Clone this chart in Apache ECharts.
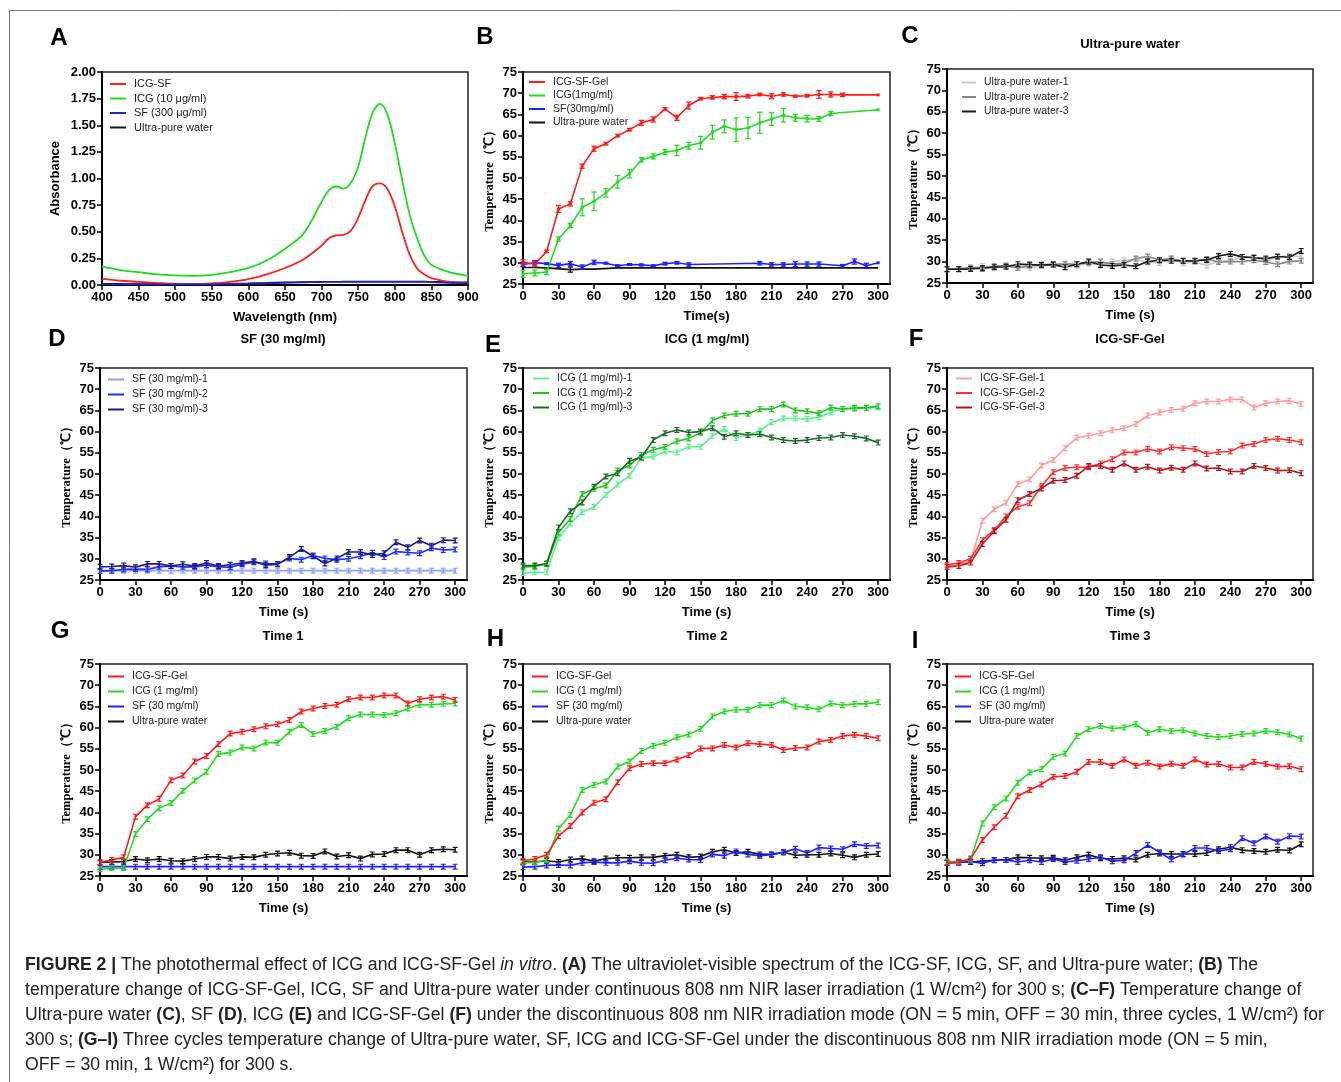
<!DOCTYPE html>
<html><head><meta charset="utf-8">
<script src="https://cdn.jsdelivr.net/npm/echarts@6/dist/echarts.min.js"></script>
<style>html,body{margin:0;padding:0;background:#fff}#c{width:1341px;height:1082px}</style>
</head><body><div id="c"></div>
<script>
// ---------- Panel A: UV-vis spectrum ----------
const wavelengthNm = [400,425,450,475,500,525,550,575,600,625,650,675,700,710,720,730,740,750,760,770,780,790,800,810,820,830,840,850,875,900];
const absIcgSf = [0.060,0.040,0.030,0.020,0.012,0.010,0.015,0.030,0.055,0.100,0.160,0.240,0.370,0.440,0.465,0.470,0.510,0.630,0.800,0.930,0.955,0.900,0.740,0.500,0.290,0.160,0.100,0.065,0.030,0.015];
const absIcg   = [0.175,0.140,0.120,0.100,0.090,0.085,0.095,0.120,0.160,0.230,0.340,0.480,0.780,0.890,0.925,0.905,0.960,1.110,1.390,1.620,1.700,1.600,1.330,0.990,0.670,0.450,0.280,0.190,0.120,0.085];
const absSf    = [0.005,0.005,0.005,0.005,0.005,0.005,0.007,0.010,0.012,0.015,0.020,0.025,0.028,0.030,0.030,0.030,0.030,0.030,0.030,0.030,0.030,0.030,0.030,0.030,0.030,0.030,0.029,0.028,0.020,0.012];
const absWater = [0.012,0.011,0.010,0.010,0.010,0.011,0.012,0.014,0.016,0.020,0.025,0.028,0.030,0.031,0.031,0.032,0.032,0.032,0.033,0.033,0.034,0.034,0.034,0.034,0.034,0.033,0.032,0.031,0.028,0.025];

// ---------- Panel B: continuous irradiation ----------
const bGelTime  = [0,10,20,30,40,50,60,70,80,90,100,110,120,130,140,150,160,170,180,190,200,210,220,230,240,250,260,270,300];
const bGelTemp  = [30.1,29.7,32.7,42.7,43.9,52.8,56.9,58.1,60.0,61.4,63.0,63.8,66.3,64.2,67.1,68.7,69.0,69.2,69.2,69.3,69.7,69.3,69.7,69.3,69.4,69.7,69.7,69.6,69.6];
const bGelErr   = [0.6,0.6,0.3,0.8,0.5,0.5,0.6,0.3,0.3,0.3,0.6,0.6,0.3,0.6,0.8,0.3,0.4,0.5,0.9,0.4,0.3,0.6,0.4,0.2,0.3,0.9,0.6,0.4,0];
const bIcgTime  = [0,10,20,30,40,50,60,70,80,90,100,110,120,130,140,150,160,170,180,190,200,210,220,230,240,250,260,300];
const bIcgTemp  = [27.4,27.6,27.8,35.6,38.8,43.1,44.5,46.5,49.1,51.0,54.3,55.1,56.1,56.5,57.6,58.3,60.8,62.2,61.4,61.8,63.0,63.9,64.8,64.2,64.0,63.9,65.2,66.1];
const bIcgErr   = [0.8,0.7,0.6,0.5,0.5,2.0,2.2,1.0,1.5,1.0,0.5,0.6,0.6,1.2,0.8,1.5,1.6,1.5,2.8,2.5,2.5,1.5,1.6,0.8,0.8,0.6,0.5,0];
const bSfTime   = [0,10,20,30,40,50,60,70,80,90,100,110,120,130,140,200,210,220,230,240,250,270,280,290,300];
const bSfTemp   = [29.6,30.0,29.8,29.4,29.8,29.0,30.1,29.9,29.3,29.6,29.5,29.3,29.8,30.0,29.6,29.9,29.6,29.6,29.7,29.7,29.7,29.3,30.3,29.3,30.0];
const bSfErr    = [0.5,0.5,0.2,0.5,0.5,0.5,0.5,0.2,0.2,0.2,0.2,0.2,0.3,0.3,0.4,0.4,0.4,0.4,0.6,0.5,0.5,0.3,0.6,0.6,0];
const bWaterTime = [0,10,20,40,50,60,80,300];
const bWaterTemp = [28.9,28.9,28.8,28.4,28.5,28.5,28.8,28.8];
const bWaterErr  = [0,0,0,0.6,0,0,0,0];

// ---------- Panels C-I: discontinuous irradiation (three cycles) ----------
const timeS = [0,10,20,30,40,50,60,70,80,90,100,110,120,130,140,150,160,170,180,190,200,210,220,230,240,250,260,270,280,290,300];
const water1 = [28.2,28.3,28.4,29.0,28.7,29.0,28.6,28.5,29.0,29.5,29.5,29.1,29.5,29.4,30.0,30.3,30.5,29.8,29.7,30.8,29.6,29.9,29.1,30.1,30.2,31.1,31.1,30.0,31.1,31.3,31.2];
const water2 = [28.3,28.3,28.6,28.3,28.9,29.1,28.5,29.1,29.3,29.3,29.4,29.4,29.8,30.0,29.4,29.6,30.7,31.2,30.4,30.7,30.1,30.1,30.6,29.9,30.0,30.0,30.3,29.9,29.4,30.0,30.2];
const water3 = [28.2,28.2,28.3,28.5,28.7,28.8,29.4,29.3,29.2,29.3,28.7,29.4,30.0,29.2,29.0,29.2,28.9,30.0,30.3,30.2,30.2,30.2,30.4,31.3,31.8,31.1,30.9,30.7,31.2,31.0,32.5];
const sf1 = [27.2,27.2,27.2,27.2,27.2,27.2,27.2,27.2,27.2,27.2,27.2,27.2,27.2,27.2,27.2,27.2,27.2,27.2,27.2,27.2,27.2,27.2,27.2,27.2,27.2,27.2,27.2,27.2,27.2,27.2,27.2];
const sf2 = [27.1,27.2,27.5,27.6,27.5,28.1,28.3,28.1,28.1,28.5,28.1,28.0,28.7,29.2,28.9,28.8,30.1,29.8,30.8,30.1,29.8,30.0,30.6,31.4,30.4,31.7,31.5,31.3,32.5,32.1,32.2];
const sf3 = [28.1,28.2,28.4,28.0,28.8,28.8,28.3,28.7,28.3,29.0,28.3,28.6,29.0,29.4,28.5,28.7,30.4,32.3,30.6,28.9,30.1,31.6,31.6,30.9,31.3,33.9,32.7,34.3,33.1,34.4,34.3];
const icg1 = [26.6,26.8,26.9,34.9,38.4,41.0,42.2,45.1,47.5,49.6,53.8,54.1,55.3,55.1,56.5,56.4,59.0,60.6,58.5,59.2,60.2,62.2,63.1,63.1,63.0,63.4,64.5,65.4,65.4,65.6,65.7];
const icg2 = [28.1,28.2,28.8,36.2,39.4,45.3,46.5,47.3,50.8,52.0,54.5,55.7,56.4,57.7,58.4,59.7,62.6,63.8,64.2,64.2,65.3,65.3,66.4,65.0,64.8,64.3,65.7,65.3,65.6,65.6,66.0];
const icg3 = [28.4,28.4,28.9,37.4,41.2,43.3,47.0,49.4,50.2,53.1,53.9,58.0,59.6,60.4,59.8,60.0,60.8,58.8,59.6,59.2,59.4,58.6,58.0,57.8,58.0,58.5,58.6,59.2,58.9,58.4,57.4];
const gel1 = [28.2,28.8,29.4,39.0,41.7,43.2,47.6,48.7,52.0,53.3,56.1,58.6,59.0,59.6,60.3,60.8,61.8,63.8,64.5,65.1,65.4,66.7,67.1,67.1,67.6,67.6,65.7,66.7,67.1,67.3,66.5];
const gel2 = [28.6,29.0,30.0,34.4,36.8,40.0,42.3,43.1,47.1,50.4,51.4,51.6,51.6,52.5,53.5,55.1,55.1,55.9,55.3,56.3,56.1,55.9,54.7,55.2,55.3,56.7,57.1,58.0,58.3,58.0,57.5];
const gel3 = [28.1,28.3,29.1,33.5,36.5,39.2,43.8,45.3,46.6,48.4,48.6,49.6,51.9,51.9,51.0,52.5,51.0,51.7,50.8,51.5,51.0,52.5,51.3,51.4,50.6,50.6,51.9,51.4,50.8,50.9,50.2];

// tick labels
const timeTicks = [0,30,60,90,120,150,180,210,240,270,300];
const wlTicks = [400,450,500,550,600,650,700,750,800,850,900];
const tempTicks = [25,30,35,40,45,50,55,60,65,70,75];
const absTicks = [0,0.25,0.5,0.75,1,1.25,1.5,1.75,2];

// ---------- build ----------
const zip = (xs, ys) => xs.map((x, i) => [x, ys[i]]);
const zip3 = (xs, ys, es) => xs.map((x, i) => [x, ys[i], es[i]]).filter(d => d[2] > 0);
const SANS = '"Liberation Sans", Arial, sans-serif';
const SERIF = '"Liberation Serif", "Times New Roman", serif';
const I_SYMBOL = 'path://M0,0H5V1.4H3.2V5.6H5V7H0V5.6H1.8V1.4H0Z';

const grids = [
  {left:102, top:72, width:366, height:213},
  {left:523, top:72, width:367, height:212},
  {left:947, top:69, width:366, height:214},
  {left:100, top:368, width:367, height:212},
  {left:523, top:368, width:367, height:212},
  {left:947, top:368, width:366, height:212},
  {left:100, top:664, width:367, height:212},
  {left:523, top:664, width:367, height:212},
  {left:947, top:664, width:366, height:212}
].map(g => Object.assign({show:true, borderColor:'#222', borderWidth:1.5, backgroundColor:'transparent'}, g));

const axisCommon = {
  axisLine:{show:true, onZero:false, lineStyle:{color:'#000', width:2}},
  axisTick:{show:true, inside:false, length:5, lineStyle:{color:'#000', width:1.5}},
  axisLabel:{color:'#000', fontWeight:'bold', fontSize:13, fontFamily:SANS, margin:6},
  splitLine:{show:false},
  nameLocation:'middle',
  nameTextStyle:{color:'#000', fontWeight:'bold', fontSize:13, fontFamily:SANS}
};
function mk(base, extra){ return echarts.util.merge(echarts.util.clone(base), extra, true); }

const xAxes = [], yAxes = [];
xAxes.push(mk(axisCommon, {type:'value', gridIndex:0, min:400, max:900, interval:50, name:'Wavelength (nm)', nameGap:26,
  axisLabel:{customValues:wlTicks}, axisTick:{customValues:wlTicks}}));
yAxes.push(mk(axisCommon, {type:'value', gridIndex:0, min:0, max:2, interval:0.25, name:'Absorbance', nameGap:40,
  axisLabel:{customValues:absTicks, formatter:v => v.toFixed(2)}, axisTick:{customValues:absTicks}}));
for (let g = 1; g < 9; g++) {
  xAxes.push(mk(axisCommon, {type:'value', gridIndex:g, min:0, max:310, interval:30, name: g === 1 ? 'Time(s)' : 'Time (s)', nameGap:26,
    axisLabel:{customValues:timeTicks, formatter:v => (v % 30 === 0 && v <= 300) ? String(v) : ''}, axisTick:{customValues:timeTicks}}));
  yAxes.push(mk(axisCommon, {type:'value', gridIndex:g, min:25, max:75, interval:5, name:'Temperature（℃）', nameGap:27,
    axisLabel:{customValues:tempTicks}, axisTick:{customValues:tempTicks},
    nameTextStyle:{fontFamily:SERIF, fontSize:12.5, fontWeight:'bold'}}));
}

const series = [];
function addLine(g, name, color, data, opt){
  series.push(Object.assign({
    type:'line', name, xAxisIndex:g, yAxisIndex:g, data,
    lineStyle:{color, width:1.6}, itemStyle:{color},
    symbol:I_SYMBOL, symbolSize:[5,6], showSymbol:true, animation:false, z:3
  }, opt || {}));
}
function errRender(color){
  return function(params, api){
    const x = api.value(0), y = api.value(1), e = api.value(2);
    const p1 = api.coord([x, y - e]), p2 = api.coord([x, y + e]);
    const w = 2.6, st = {stroke:color, lineWidth:1.3};
    return {type:'group', children:[
      {type:'line', shape:{x1:p1[0], y1:p1[1], x2:p2[0], y2:p2[1]}, style:st},
      {type:'line', shape:{x1:p1[0]-w, y1:p1[1], x2:p1[0]+w, y2:p1[1]}, style:st},
      {type:'line', shape:{x1:p2[0]-w, y1:p2[1], x2:p2[0]+w, y2:p2[1]}, style:st}
    ]};
  };
}
function addErr(g, color, data){
  series.push({type:'custom', xAxisIndex:g, yAxisIndex:g, data, encode:{x:0, y:1}, renderItem:errRender(color), silent:true, animation:false, z:4});
}

// A
const noSym = {showSymbol:false, symbol:'none', smooth:0.35};
addLine(0, 'ICG-SF', '#ff1f1f', zip(wavelengthNm, absIcgSf), Object.assign({}, noSym, {lineStyle:{color:'#ff1f1f', width:1.8}}));
addLine(0, 'ICG (10 μg/ml)', '#1fdc1f', zip(wavelengthNm, absIcg), Object.assign({}, noSym, {lineStyle:{color:'#1fdc1f', width:1.8}}));
addLine(0, 'SF (300 μg/ml)', '#2222cc', zip(wavelengthNm, absSf), Object.assign({}, noSym, {lineStyle:{color:'#2222cc', width:1.8}}));
addLine(0, 'Ultra-pure water', '#111111', zip(wavelengthNm, absWater), Object.assign({}, noSym, {lineStyle:{color:'#111111', width:1.5}, z:2}));

// B
const RED = '#ff1a1a', GREEN = '#22dd22', BLUE = '#2020ff', BLACK = '#111111';
addLine(1, 'Ultra-pure water', BLACK, zip(bWaterTime, bWaterTemp), {showSymbol:false, symbol:'none'});
addLine(1, 'SF(30mg/ml)', BLUE, zip(bSfTime, bSfTemp), {symbol:'rect', symbolSize:3});
addLine(1, 'ICG(1mg/ml)', GREEN, zip(bIcgTime, bIcgTemp), {symbol:'rect', symbolSize:3});
addLine(1, 'ICG-SF-Gel', RED, zip(bGelTime, bGelTemp), {symbol:'rect', symbolSize:3});
addErr(1, BLACK, zip3(bWaterTime, bWaterTemp, bWaterErr));
addErr(1, BLUE, zip3(bSfTime, bSfTemp, bSfErr));
addErr(1, GREEN, zip3(bIcgTime, bIcgTemp, bIcgErr));
addErr(1, RED, zip3(bGelTime, bGelTemp, bGelErr));

// C
addLine(2, 'Ultra-pure water-1', '#c8c8c8', zip(timeS, water1));
addLine(2, 'Ultra-pure water-2', '#858585', zip(timeS, water2));
addLine(2, 'Ultra-pure water-3', '#1a1a1a', zip(timeS, water3));
// D
addLine(3, 'SF (30 mg/ml)-1', '#8f9bff', zip(timeS, sf1));
addLine(3, 'SF (30 mg/ml)-2', '#1f2cff', zip(timeS, sf2));
addLine(3, 'SF (30 mg/ml)-3', '#1b1b7e', zip(timeS, sf3));
// E
addLine(4, 'ICG (1 mg/ml)-1', '#5ef08f', zip(timeS, icg1));
addLine(4, 'ICG (1 mg/ml)-2', '#1ec51e', zip(timeS, icg2));
addLine(4, 'ICG (1 mg/ml)-3', '#1b6a28', zip(timeS, icg3));
// F
addLine(5, 'ICG-SF-Gel-1', '#ff9c9c', zip(timeS, gel1));
addLine(5, 'ICG-SF-Gel-2', '#ff3030', zip(timeS, gel2));
addLine(5, 'ICG-SF-Gel-3', '#b3161c', zip(timeS, gel3));
// G, H, I
const cycles = [[gel1, icg1, sf1, water1], [gel2, icg2, sf2, water2], [gel3, icg3, sf3, water3]];
cycles.forEach((c, k) => {
  const g = 6 + k;
  addLine(g, 'Ultra-pure water', BLACK, zip(timeS, c[3]));
  addLine(g, 'SF (30 mg/ml)', BLUE, zip(timeS, c[2]));
  addLine(g, 'ICG (1 mg/ml)', GREEN, zip(timeS, c[1]));
  addLine(g, 'ICG-SF-Gel', RED, zip(timeS, c[0]));
});

function legend(left, top, gap, names, fs, w){
  return {orient:'vertical', left, top, padding:0, itemGap:gap, itemWidth:w || 16, itemHeight:2, icon:'rect',
    selectedMode:false, data:names,
    textStyle:{fontSize:fs || 10.5, fontFamily:SANS, color:'#222', padding:[0,0,0,3]}};
}
const legends = [
  legend(110, 78.5, 3.5, ['ICG-SF','ICG (10 μg/ml)','SF (300 μg/ml)','Ultra-pure water'], 11),
  legend(529, 76.5, 2.5, ['ICG-SF-Gel','ICG(1mg/ml)','SF(30mg/ml)','Ultra-pure water']),
  legend(962, 77, 3.5, ['Ultra-pure water-1','Ultra-pure water-2','Ultra-pure water-3'], 10.5, 14),
  legend(108, 374, 4, ['SF (30 mg/ml)-1','SF (30 mg/ml)-2','SF (30 mg/ml)-3']),
  legend(533, 373, 3.5, ['ICG (1 mg/ml)-1','ICG (1 mg/ml)-2','ICG (1 mg/ml)-3']),
  legend(956, 373, 3.5, ['ICG-SF-Gel-1','ICG-SF-Gel-2','ICG-SF-Gel-3']),
  legend(108, 671, 4, ['ICG-SF-Gel','ICG (1 mg/ml)','SF (30 mg/ml)','Ultra-pure water']),
  legend(532, 671, 4, ['ICG-SF-Gel','ICG (1 mg/ml)','SF (30 mg/ml)','Ultra-pure water']),
  legend(955, 671, 4, ['ICG-SF-Gel','ICG (1 mg/ml)','SF (30 mg/ml)','Ultra-pure water'])
];

// ---------- texts ----------
const graphics = [];
graphics.push({type:'line', shape:{x1:9.5, y1:10.5, x2:1341, y2:10.5}, style:{stroke:'#777', lineWidth:1}, silent:true});
graphics.push({type:'line', shape:{x1:9.5, y1:10.5, x2:9.5, y2:1082}, style:{stroke:'#777', lineWidth:1}, silent:true});
const letters = [['A',59,38],['B',485,37.5],['C',910,36],['D',57,339],['E',493,345],['F',916,339],['G',60,631.5],['H',495.5,639],['I',915,641]];
letters.forEach(l => graphics.push({type:'text', x:l[1], y:l[2], silent:true,
  style:{text:l[0], fontSize:24, fontWeight:'bold', fontFamily:SANS, fill:'#000', align:'center', verticalAlign:'middle'}}));
const titles = [['Ultra-pure water',1130,44],['SF (30 mg/ml)',283,339.5],['ICG (1 mg/ml)',707,339.5],['ICG-SF-Gel',1130,339.5],['Time 1',283,636],['Time 2',707,636],['Time 3',1130,636]];
titles.forEach(t => graphics.push({type:'text', x:t[1], y:t[2], silent:true,
  style:{text:t[0], fontSize:13, fontWeight:'bold', fontFamily:SANS, fill:'#000', align:'center', verticalAlign:'middle'}}));

const captionLines = [
  '{b|FIGURE 2 |} The photothermal effect of ICG and ICG-SF-Gel {i|in vitro}. {b|(A)} The ultraviolet-visible spectrum of the ICG-SF, ICG, SF, and Ultra-pure water; {b|(B)} The',
  'temperature change of ICG-SF-Gel, ICG, SF and Ultra-pure water under continuous 808 nm NIR laser irradiation (1 W/cm²) for 300 s; {b|(C–F)} Temperature change of',
  'Ultra-pure water {b|(C)}, SF {b|(D)}, ICG {b|(E)} and ICG-SF-Gel {b|(F)} under the discontinuous 808 nm NIR irradiation mode (ON = 5 min, OFF = 30 min, three cycles, 1 W/cm²) for',
  '300 s; {b|(G–I)} Three cycles temperature change of Ultra-pure water, SF, ICG and ICG-SF-Gel under the discontinuous 808 nm NIR irradiation mode (ON = 5 min,',
  'OFF = 30 min, 1 W/cm²) for 300 s.'
];
const captionY = [965, 990, 1015, 1040, 1065];
// fit the font size so the widest caption line spans the same width as in the reference
const ctx = document.createElement('canvas').getContext('2d');
function lineWidth16(line){
  let w = 0; const re = /\{([a-z]+)\|([^}]*)\}|([^{]+)/g; let m;
  while ((m = re.exec(line))) {
    if (m[3]) { ctx.font = '16px "Liberation Sans", Arial'; w += ctx.measureText(m[3]).width; }
    else { ctx.font = (m[1] === 'b' ? 'bold ' : 'italic ') + '16px "Liberation Sans", Arial'; w += ctx.measureText(m[2]).width; }
  }
  return w;
}
const maxW = Math.max.apply(null, captionLines.map(lineWidth16));
let capFs = 16 * 1300 / maxW;
capFs = Math.max(13, Math.min(18, capFs));
captionLines.forEach((line, i) => graphics.push({type:'text', x:25, y:captionY[i], silent:true,
  style:{text:line, fontSize:capFs, fontFamily:SANS, fill:'#222', verticalAlign:'middle', align:'left',
    rich:{b:{fontWeight:'bold', fontSize:capFs, fontFamily:SANS, fill:'#222'},
          i:{fontStyle:'italic', fontSize:capFs, fontFamily:SANS, fill:'#222'}}}}));

const chart = echarts.init(document.getElementById('c'), null, {renderer:'canvas'});
chart.setOption({
  backgroundColor:'#ffffff',
  animation:false,
  grid:grids, xAxis:xAxes, yAxis:yAxes, legend:legends, series, graphic:graphics
});
</script></body></html>
